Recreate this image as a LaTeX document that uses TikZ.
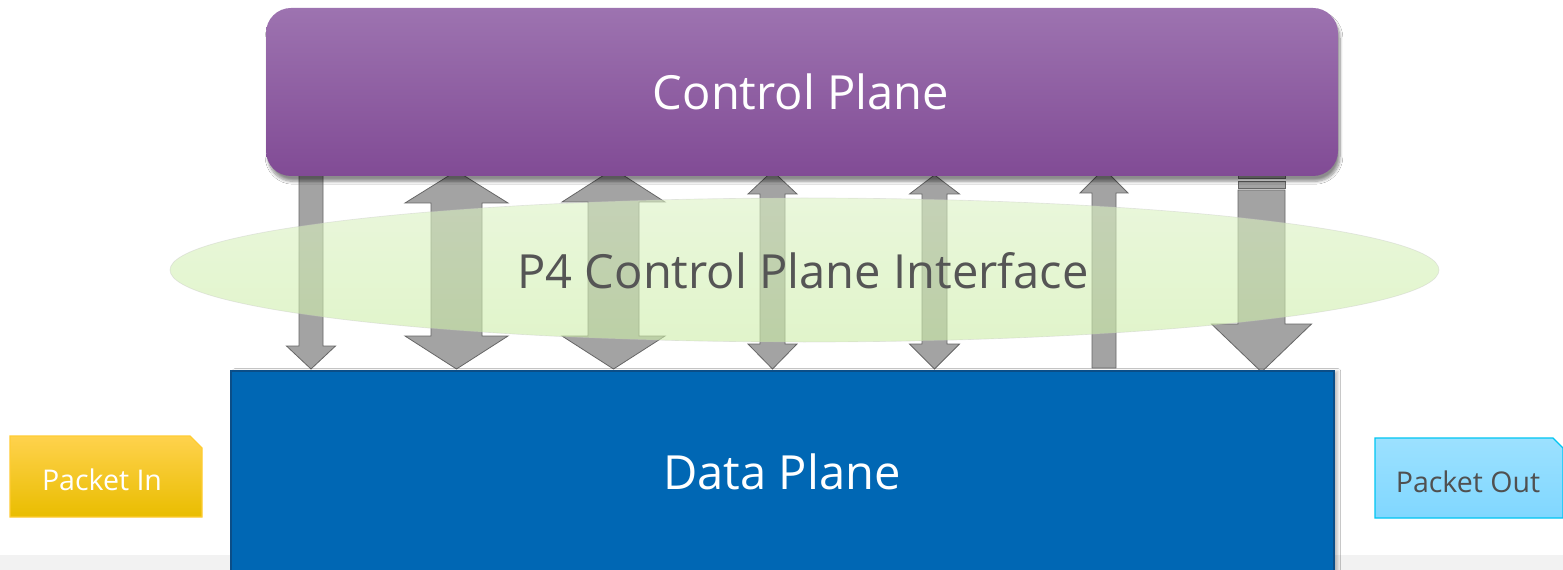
\documentclass[tikz,border=0pt]{standalone}
\usepackage{fontspec}
\setmainfont{Open Sans}
\usetikzlibrary{shapes.geometric,shadows.blur}

\definecolor{cptop}{HTML}{9D73B0}
\definecolor{cpbot}{HTML}{814B95}
\definecolor{dpblue}{HTML}{0067B4}
\definecolor{dpedge}{HTML}{0B4E88}
\definecolor{arrowfill}{HTML}{A3A3A3}
\definecolor{arrowedge}{HTML}{666666}
\definecolor{ifacetop}{HTML}{DCF2C4}
\definecolor{ifacebot}{HTML}{CDEEA8}
\definecolor{ifacetext}{HTML}{555555}
\definecolor{intop}{HTML}{FFD24D}
\definecolor{inmid}{HTML}{FDCF18}
\definecolor{inbot}{HTML}{E9BD00}
\definecolor{inedge}{HTML}{FFCC33}
\definecolor{outtop}{HTML}{9CE1FF}
\definecolor{outbot}{HTML}{80D7FF}
\definecolor{outedge}{HTML}{00C6F2}
\definecolor{outtext}{HTML}{505050}
\definecolor{band}{HTML}{F2F2F2}

\tikzset{
  blockarrow/.style={fill=arrowfill, draw=arrowedge, line width=0.6pt, line join=miter},
  bigtext/.style={font=\fontsize{35.3}{40}\selectfont, inner sep=0pt},
  smalltext/.style={font=\fontsize{21.4}{24}\selectfont, inner sep=0pt},
  packetedge/.style={line width=0.9pt, line join=miter},
}

% two-headed block arrow: centre x, shaft half width, head half width,
% top tip, top head base, bottom head base, bottom tip
\newcommand\twowayarrow[7]{%
  \draw[blockarrow] (#1,#4) -- ({#1+#3},#5) -- ({#1+#2},#5) -- ({#1+#2},#6)
    -- ({#1+#3},#6) -- (#1,#7) -- ({#1-#3},#6) -- ({#1-#2},#6) -- ({#1-#2},#5)
    -- ({#1-#3},#5) -- cycle;}
% downward block arrow: centre x, shaft half, head half, top, head base, tip
\newcommand\downarrowblk[6]{%
  \draw[blockarrow] ({#1-#2},#4) -- ({#1+#2},#4) -- ({#1+#2},#5) -- ({#1+#3},#5)
    -- (#1,#6) -- ({#1-#3},#5) -- ({#1-#2},#5) -- cycle;}
% upward block arrow: centre x, shaft half, head half, tip, head base, bottom
\newcommand\uparrowblk[6]{%
  \draw[blockarrow] (#1,#4) -- ({#1+#3},#5) -- ({#1+#2},#5) -- ({#1+#2},#6)
    -- ({#1-#2},#6) -- ({#1-#2},#5) -- ({#1-#3},#5) -- cycle;}

\begin{document}
\begin{tikzpicture}[x=0.75pt, y=-0.75pt]
\useasboundingbox (0,0) rectangle (1563,570);
\fill[white] (0,0) rectangle (1563,570);

% light floor band
\fill[band] (0,555) rectangle (1563,570);

% block arrows between the planes
\downarrowblk{311}{12}{24.5}{171}{346}{369}
\twowayarrow{456.5}{25.5}{51.5}{171}{203}{336}{369}
\twowayarrow{613.5}{25.5}{51.5}{169}{202}{336}{369}
\twowayarrow{772.5}{12.5}{24.5}{171}{194}{344}{369}
\twowayarrow{934.5}{12.5}{25}{175}{194}{344}{369}
\uparrowblk{1104}{12}{24}{169}{193}{368}
\draw[blockarrow] (1238,175) rectangle (1285,178);
\draw[blockarrow] (1238,181) rectangle (1285,188);
\downarrowblk{1261.5}{23.5}{50}{190}{324}{372}

% control plane
\node[rounded corners=18.75pt, top color=cptop, bottom color=cpbot, draw=none,
      minimum width=804pt, minimum height=126pt,
      blur shadow={shadow xshift=1.5pt, shadow yshift=-4pt, shadow blur steps=8, shadow opacity=45}]
      (cp) at (802,92) {};
\node[bigtext, text=white] (cptext) at (801,92) {Control Plane};

% P4 interface ellipse
\node[ellipse, top color=ifacetop, bottom color=ifacebot, fill opacity=0.6,
      draw=gray!50, draw opacity=0.35, line width=0.5pt,
      minimum width=951.75pt, minimum height=108pt] (iface) at (804.5,270) {};
\node[bigtext, text=ifacetext] (ifacetext) at (803,271) {P4 Control Plane Interface};

% data plane
\node[rectangle, fill=dpblue, draw=dpedge, line width=1.5pt,
      minimum width=827pt, minimum height=160pt,
      blur shadow={shadow xshift=3pt, shadow yshift=0pt, shadow blur steps=6, shadow opacity=25}]
      (dp) at (782.5,478) {};
\node[bigtext, text=white] (dptext) at (782,472) {Data Plane};

% packet boxes with a snipped upper right corner
\shade[packetedge, draw=inedge, top color=intop, middle color=inmid, bottom color=inbot]
  (10,436) -- (190,436) -- (202,448) -- (202,517) -- (10,517) -- cycle;
\node[smalltext, text=white] (pintext) at (102,480) {Packet In};
\shade[packetedge, draw=outedge, top color=outtop, bottom color=outbot]
  (1375,438) -- (1553,438) -- (1563,448) -- (1563,518) -- (1375,518) -- cycle;
\node[smalltext, text=outtext] (pouttext) at (1468,482) {Packet Out};
\end{tikzpicture}
\end{document}
